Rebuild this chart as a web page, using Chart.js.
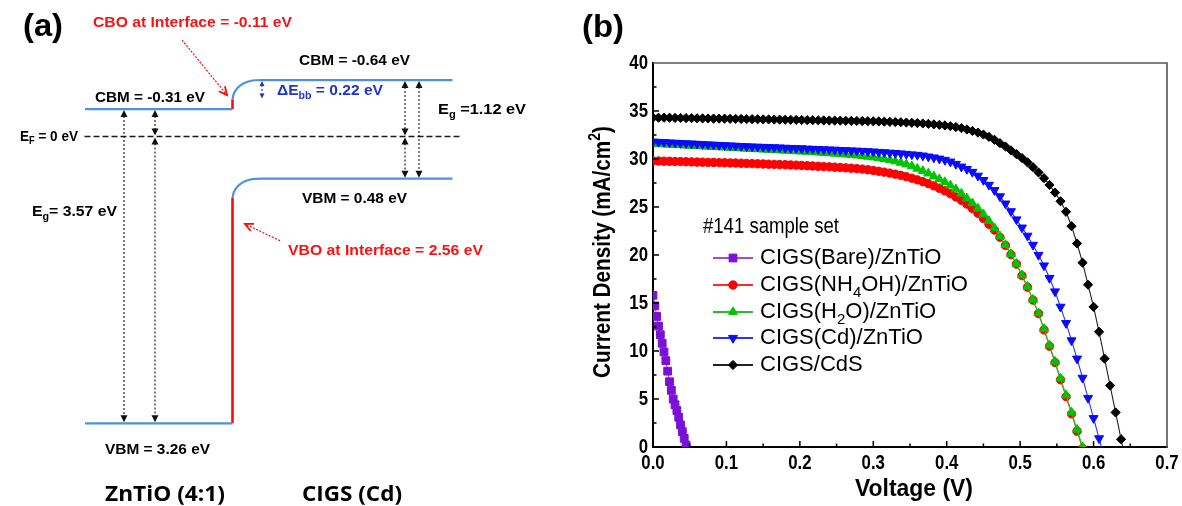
<!DOCTYPE html>
<html>
<head>
<meta charset="utf-8">
<script src="https://cdn.jsdelivr.net/npm/chart.js@4.4.1/dist/chart.umd.min.js"></script>
<style>
  html, body { margin: 0; padding: 0; background: #fff; }
  #wrap { position: relative; width: 1182px; height: 506px; overflow: hidden; background: #fff; }
  #bandBox { position: absolute; left: 0; top: 0; width: 580px; height: 506px; }
  #jvBox { position: absolute; left: 580px; top: 0; width: 602px; height: 506px; }
  canvas { display: block; }
</style>
</head>
<body>
<div id="wrap">
  <div id="bandBox"><canvas id="band" width="580" height="506"></canvas></div>
  <div id="jvBox"><canvas id="jv" width="602" height="506"></canvas></div>
</div>
<script>
// ---------------- Panel (a): band alignment (energies in eV, E_F = 0) ----------------
const fermiLevel = 0;
const zntioCBM = -0.31;
const zntioVBM = 3.26;
const cigsCBM = -0.64;
const cigsVBM = 0.48;
const cbOffset = -0.11;           // CBO at the interface
const vbOffset = 2.56;            // VBO at the interface
const bandBending = 0.22;         // ΔE_bb

// position along the stack (interface at 0)
const zntioSpan = [-14.75, 0];
const fermiSpan = [-14.8, 23.0];
// band bending profile on the CIGS side near the interface
const bendPos = [0, 0.1, 0.25, 0.5, 0.8, 1.2, 1.7, 2.3, 3.0, 22.0];
const cigsCbmCurve = [-0.42, -0.475, -0.51, -0.55, -0.58, -0.607, -0.627, -0.638, -0.64, -0.64];
const cigsVbmCurve = [0.70, 0.645, 0.61, 0.57, 0.54, 0.513, 0.493, 0.482, 0.48, 0.48];

// ---------------- Panel (b): J–V curves ----------------
const voltage = [
  0, 0.0075, 0.015, 0.0225, 0.03, 0.0375, 0.045, 0.0525, 0.06, 0.0675,
  0.075, 0.0825, 0.09, 0.0975, 0.105, 0.1125, 0.12, 0.1275, 0.135, 0.1425,
  0.15, 0.1575, 0.165, 0.1725, 0.18, 0.1875, 0.195, 0.2025, 0.21, 0.2175,
  0.225, 0.2325, 0.24, 0.2475, 0.255, 0.2625, 0.27, 0.2775, 0.285, 0.2925,
  0.3, 0.3075, 0.315, 0.3225, 0.33, 0.3375, 0.345, 0.3525, 0.36, 0.3675,
  0.375, 0.3825, 0.39, 0.3975, 0.405, 0.4125, 0.42, 0.4275, 0.435, 0.4425,
  0.45, 0.4575, 0.465, 0.4725, 0.48, 0.4875, 0.495, 0.5025, 0.51, 0.5175,
  0.525, 0.5325, 0.54, 0.5475, 0.555, 0.5625, 0.57, 0.5775, 0.585, 0.5925,
  0.6, 0.6075, 0.615, 0.6225, 0.63, 0.6375, 0.645
];
const jCdS = [
  34.3, 34.3, 34.3, 34.3, 34.28, 34.27, 34.26, 34.25, 34.24, 34.23,
  34.22, 34.21, 34.2, 34.2, 34.19, 34.18, 34.17, 34.16, 34.15, 34.14,
  34.13, 34.12, 34.11, 34.1, 34.09, 34.08, 34.07, 34.06, 34.05, 34.04,
  34.03, 34.02, 34.01, 34.0, 33.99, 33.98, 33.97, 33.96, 33.95, 33.94,
  33.93, 33.91, 33.89, 33.87, 33.85, 33.83, 33.8, 33.77, 33.74, 33.7,
  33.66, 33.61, 33.56, 33.5, 33.42, 33.33, 33.22, 33.08, 32.92, 32.75,
  32.55, 32.3, 32.0, 31.65, 31.3, 30.9, 30.5, 30.1, 29.65, 29.15,
  28.6, 28.0, 27.3, 26.5, 25.6, 24.5, 23.0, 21.2, 19.2, 16.9,
  14.6, 12.0, 9.2, 6.4, 3.6, 0.8, -2.0
];
const jCd = [
  31.8, 31.77, 31.74, 31.71, 31.68, 31.65, 31.62, 31.6, 31.57, 31.54,
  31.51, 31.48, 31.45, 31.42, 31.4, 31.37, 31.34, 31.31, 31.29, 31.27,
  31.25, 31.23, 31.21, 31.19, 31.16, 31.14, 31.12, 31.1, 31.07, 31.05,
  31.03, 31.0, 30.98, 30.96, 30.93, 30.91, 30.88, 30.86, 30.83, 30.8,
  30.77, 30.73, 30.69, 30.65, 30.62, 30.57, 30.52, 30.47, 30.42, 30.35,
  30.25, 30.15, 30.03, 29.9, 29.72, 29.48, 29.2, 28.95, 28.65, 28.25,
  27.8, 27.3, 26.75, 26.1, 25.35, 24.55, 23.7, 22.85, 22.0, 21.05,
  20.0, 18.9, 17.6, 16.2, 14.6, 12.9, 11.1, 9.2, 7.2, 5.1,
  3.0, 0.9, -1.2
];
const jH2O = [
  31.6, 31.57, 31.54, 31.51, 31.48, 31.45, 31.42, 31.39, 31.36, 31.33,
  31.3, 31.27, 31.24, 31.21, 31.18, 31.15, 31.12, 31.09, 31.06, 31.03,
  31.0, 30.97, 30.94, 30.91, 30.88, 30.85, 30.82, 30.79, 30.76, 30.73,
  30.69, 30.65, 30.61, 30.57, 30.53, 30.48, 30.43, 30.38, 30.32, 30.25,
  30.18, 30.1, 30.0, 29.9, 29.77, 29.62, 29.45, 29.25, 29.0, 28.75,
  28.5, 28.2, 27.9, 27.6, 27.25, 26.85, 26.4, 25.9, 25.4, 24.85,
  24.25, 23.55, 22.8, 21.95, 21.05, 20.1, 19.1, 17.9, 16.7, 15.35,
  13.95, 12.3, 10.6, 8.9, 7.15, 5.4, 3.6, 1.8, 0.0, -1.8
];
const jNH4OH = [
  29.8, 29.79, 29.77, 29.76, 29.74, 29.73, 29.71, 29.7, 29.68, 29.67,
  29.65, 29.64, 29.62, 29.61, 29.59, 29.58, 29.56, 29.54, 29.52, 29.5,
  29.48, 29.46, 29.44, 29.42, 29.4, 29.38, 29.36, 29.33, 29.3, 29.27,
  29.24, 29.21, 29.18, 29.15, 29.12, 29.08, 29.04, 29.0, 28.95, 28.88,
  28.8, 28.72, 28.63, 28.53, 28.42, 28.3, 28.16, 28.0, 27.83, 27.64,
  27.43, 27.2, 26.95, 26.68, 26.38, 26.05, 25.7, 25.3, 24.85, 24.35,
  23.8, 23.2, 22.6, 21.85, 21.0, 20.05, 19.05, 17.85, 16.65, 15.3,
  13.9, 12.2, 10.5, 8.8, 7.0, 5.25, 3.45, 1.65, -0.15
];
const bareVoltage = [
  0, 0.0025, 0.005, 0.0075, 0.01, 0.0125, 0.015, 0.0175, 0.02, 0.0225,
  0.025, 0.0275, 0.03, 0.0325, 0.035, 0.0375, 0.04, 0.0425, 0.045
];
const jBare = [
  15.8, 14.7, 13.6, 12.6, 11.7, 10.8, 9.9, 9.0, 7.9, 6.8,
  5.9, 5.0, 4.4, 3.8, 3.1, 2.3, 1.6, 0.9, 0.2
];
const seriesNames = [
  'CIGS(Bare)/ZnTiO',
  'CIGS(NH_{4}OH)/ZnTiO',
  'CIGS(H_{2}O)/ZnTiO',
  'CIGS(Cd)/ZnTiO',
  'CIGS/CdS'
];
const legendTitle = '#141 sample set';
const voltageRange = [0, 0.7];
const currentRange = [0, 40];
const voltageStep = 0.1;
const currentStep = 5;
const xAxisTitle = 'Voltage (V)';
const yAxisTitle = 'Current Density (mA/cm^{2})';

// ---------------- shared text helpers ----------------
const SANS = '"Liberation Sans", Arial, sans-serif';
const LABEL_FONT = '"Open Sans", Lato, sans-serif';

function parseRich(str) {
  const segs = [];
  let buf = '', i = 0;
  while (i < str.length) {
    const c = str[i];
    if ((c === '_' || c === '^') && str[i + 1] === '{') {
      if (buf) { segs.push({ t: buf, m: 0 }); buf = ''; }
      const end = str.indexOf('}', i);
      segs.push({ t: str.slice(i + 2, end), m: c === '_' ? 1 : 2 });
      i = end + 1;
    } else { buf += c; i++; }
  }
  if (buf) segs.push({ t: buf, m: 0 });
  return segs;
}

// y = vertical middle of the main text. o.width fits the text to a width,
// o.squeeze scales it horizontally; o.align = left | center | right.
function drawRich(ctx, str, x, y, o) {
  const segs = parseRich(str);
  const fontOf = (sz) => `${o.weight || 'normal'} ${sz}px ${o.family || SANS}`;
  let w = 0;
  segs.forEach(s => {
    ctx.font = fontOf(s.m ? o.size * 0.68 : o.size);
    s.w = ctx.measureText(s.t).width;
    w += s.w;
  });
  const k = o.width ? o.width / w : (o.squeeze || 1);
  const total = w * k;
  const x0 = o.align === 'right' ? x - total : (o.align === 'center' ? x - total / 2 : x);
  ctx.save();
  ctx.translate(x0, y);
  ctx.scale(k, 1);
  ctx.fillStyle = o.color || '#000';
  ctx.textBaseline = 'middle';
  ctx.textAlign = 'left';
  let cx = 0;
  segs.forEach(s => {
    ctx.font = fontOf(s.m ? o.size * 0.68 : o.size);
    const dy = s.m === 1 ? o.size * 0.34 : (s.m === 2 ? -o.size * 0.36 : 0);
    ctx.fillText(s.t, cx, dy);
    cx += s.w;
  });
  ctx.restore();
}

// ---------------- Panel (a) chart ----------------
const line = (xs, ys) => ys.map((y, i) => ({ x: xs[i], y }));
const bandBlue = '#4b93e0';
const offsetRed = '#ff0a0a';

const bandDatasets = [
  { data: line(zntioSpan, [zntioCBM, zntioCBM]), borderColor: bandBlue, borderWidth: 2.2 },
  { data: line(zntioSpan, [zntioVBM, zntioVBM]), borderColor: bandBlue, borderWidth: 2.2 },
  { data: line(bendPos, cigsCbmCurve), borderColor: bandBlue, borderWidth: 2.2, cubicInterpolationMode: 'monotone' },
  { data: line(bendPos, cigsVbmCurve), borderColor: bandBlue, borderWidth: 2.2, cubicInterpolationMode: 'monotone' },
  { data: line([0, 0], [zntioCBM, zntioCBM + cbOffset]), borderColor: offsetRed, borderWidth: 2.6 },
  { data: line([0, 0], [zntioVBM - vbOffset, zntioVBM]), borderColor: offsetRed, borderWidth: 2.6 },
  { data: line(fermiSpan, [fermiLevel, fermiLevel]), borderColor: '#1a1a1a', borderWidth: 1.5, borderDash: [6, 3] }
].map(d => Object.assign({ showLine: true, pointRadius: 0, fill: false }, d));

// vertical double-headed arrows between levels
const gapArrows = [
  { x: -10.85, from: zntioCBM, to: zntioVBM, color: '#111' },
  { x: -7.75, from: zntioCBM, to: fermiLevel, color: '#111' },
  { x: -7.75, from: fermiLevel, to: zntioVBM, color: '#111' },
  { x: 17.25, from: cigsCBM, to: fermiLevel, color: '#111' },
  { x: 17.25, from: fermiLevel, to: cigsVBM, color: '#111' },
  { x: 18.65, from: cigsCBM, to: cigsVBM, color: '#111' },
  { x: 2.95, from: cigsCBM, to: cigsCBM + bandBending, color: '#1f35d0', head: 5 }
];
// pointer arrows from the interface offset labels
const pointerArrows = [
  { from: [-5.05, -1.095], to: [-0.55, -0.47] },
  { from: [4.75, 1.186], to: [1.25, 0.995] }
];
const bandLabels = [
  { t: '(a)', x: -20.95, e: -1.243, size: 32, weight: 'bold', width: 40 },
  { t: 'CBO at Interface = -0.11 eV', x: -13.95, e: -1.289, size: 15, weight: 'bold', color: '#ff1010', width: 199 },
  { t: 'CBM = -0.64 eV', x: 6.65, e: -0.857, size: 15, weight: 'bold', width: 111 },
  { t: 'CBM = -0.31 eV', x: -13.75, e: -0.44, size: 15, weight: 'bold', width: 110 },
  { t: 'ΔE_{bb} = 0.22 eV', x: 4.45, e: -0.519, size: 15, weight: 'bold', color: '#1f35d0', width: 106 },
  { t: 'E_{g} =1.12 eV', x: 20.55, e: -0.30, size: 15, weight: 'bold', width: 88 },
  { t: 'E_{F} = 0 eV', x: -21.25, e: 0, size: 15, weight: 'bold', width: 58 },
  { t: 'VBM = 0.48 eV', x: 6.95, e: 0.711, size: 15, weight: 'bold', width: 105 },
  { t: 'E_{g}= 3.57 eV', x: -20.05, e: 0.859, size: 15, weight: 'bold', width: 85 },
  { t: 'VBO at Interface = 2.56 eV', x: 5.55, e: 1.299, size: 15, weight: 'bold', color: '#ff1010', width: 195 },
  { t: 'VBM = 3.26 eV', x: -12.75, e: 3.564, size: 15, weight: 'bold', width: 105 },
  { t: 'ZnTiO (4:1)', x: -12.75, e: 4.075, size: 22, weight: 'bold', family: LABEL_FONT, width: 120 },
  { t: 'CIGS (Cd)', x: 6.95, e: 4.075, size: 22, weight: 'bold', family: LABEL_FONT, width: 100 }
];

function filledHead(ctx, x, y, dir, size) {
  // dir = -1 tip pointing up, +1 tip pointing down
  ctx.beginPath();
  ctx.moveTo(x, y);
  ctx.lineTo(x - size / 2, y - dir * size);
  ctx.lineTo(x + size / 2, y - dir * size);
  ctx.closePath();
  ctx.fill();
}

const bandAnnotations = {
  id: 'bandAnnotations',
  afterDatasetsDraw(chart) {
    const { ctx, scales: { x, y } } = chart;
    ctx.save();
    gapArrows.forEach(a => {
      const px = x.getPixelForValue(a.x);
      const y1 = y.getPixelForValue(a.from);
      const y2 = y.getPixelForValue(a.to);
      const h = a.head || 7;
      ctx.strokeStyle = a.color;
      ctx.fillStyle = a.color;
      ctx.lineWidth = 1.1;
      ctx.setLineDash([2, 2]);
      ctx.beginPath();
      ctx.moveTo(px, y1 + h);
      ctx.lineTo(px, y2 - h);
      ctx.stroke();
      ctx.setLineDash([]);
      filledHead(ctx, px, y1 + 1, -1, h);
      filledHead(ctx, px, y2 - 1, 1, h);
    });
    pointerArrows.forEach(a => {
      const x1 = x.getPixelForValue(a.from[0]), y1 = y.getPixelForValue(a.from[1]);
      const x2 = x.getPixelForValue(a.to[0]), y2 = y.getPixelForValue(a.to[1]);
      ctx.strokeStyle = offsetRed;
      ctx.lineWidth = 1.2;
      ctx.setLineDash([2, 1.5]);
      ctx.beginPath(); ctx.moveTo(x1, y1); ctx.lineTo(x2, y2); ctx.stroke();
      ctx.setLineDash([]);
      const ang = Math.atan2(y2 - y1, x2 - x1);
      ctx.lineWidth = 1.8;
      ctx.beginPath();
      ctx.moveTo(x2 - 9 * Math.cos(ang - 0.45), y2 - 9 * Math.sin(ang - 0.45));
      ctx.lineTo(x2, y2);
      ctx.lineTo(x2 - 9 * Math.cos(ang + 0.45), y2 - 9 * Math.sin(ang + 0.45));
      ctx.stroke();
    });
    bandLabels.forEach(l => {
      drawRich(ctx, l.t, x.getPixelForValue(l.x), y.getPixelForValue(l.e), l);
    });
    ctx.restore();
  }
};

new Chart(document.getElementById('band'), {
  type: 'scatter',
  data: { datasets: bandDatasets },
  options: {
    responsive: false,
    animation: false,
    events: [],
    layout: { padding: 0 },
    plugins: { legend: { display: false }, tooltip: { enabled: false } },
    scales: {
      x: { type: 'linear', display: false, min: -23.25, max: 34.75 },
      y: { type: 'linear', display: false, reverse: true, min: -1.55, max: 4.2 }
    }
  },
  plugins: [bandAnnotations]
});

// ---------------- Panel (b) chart ----------------
const seriesStyles = [
  { fill: '#7a12d6', line: '#a447ea', shape: 'rect', r: 5.5, rot: 0, order: 5 },
  { fill: '#ff0000', line: '#ff2a2a', shape: 'circle', r: 4.2, rot: 0, order: 4 },
  { fill: '#00c400', line: '#22c322', shape: 'triangle', r: 5.2, rot: 0, order: 3 },
  { fill: '#0a0aff', line: '#2f2fff', shape: 'triangle', r: 5.2, rot: 180, order: 2 },
  { fill: '#000000', line: '#222222', shape: 'rectRot', r: 4.6, rot: 0, order: 1 }
];
const seriesData = [
  line(bareVoltage, jBare),
  line(voltage, jNH4OH),
  line(voltage, jH2O),
  line(voltage, jCd),
  line(voltage, jCdS)
];
const jvDatasets = seriesData.map((data, i) => {
  const s = seriesStyles[i];
  return {
    label: seriesNames[i],
    data,
    showLine: true,
    borderWidth: 1.1,
    borderColor: s.line,
    backgroundColor: s.fill,
    pointStyle: s.shape,
    pointRadius: s.r,
    pointRotation: s.rot,
    pointBackgroundColor: s.fill,
    pointBorderColor: s.fill,
    pointBorderWidth: 1,
    order: s.order
  };
});

const tickFont = { size: 20, weight: 'bold', squeeze: 0.84 };
const titleFont = { size: 23, weight: 'bold' };

const jvFrame = {
  id: 'jvFrame',
  afterDraw(chart) {
    const { ctx, chartArea: a, scales: { x, y } } = chart;
    ctx.save();
    // upper and right frame
    ctx.strokeStyle = '#555';
    ctx.lineWidth = 1.6;
    ctx.beginPath();
    ctx.moveTo(a.left, a.top);
    ctx.lineTo(a.right, a.top);
    ctx.lineTo(a.right, a.bottom + 1);
    ctx.stroke();
    // inward major and minor ticks
    ctx.strokeStyle = '#000';
    ctx.lineWidth = 1.5;
    const tickSet = (scale) => {
      const vals = scale.ticks.map(t => t.value);
      const out = [];
      vals.forEach((v, i) => {
        out.push({ v, major: true });
        if (i < vals.length - 1) out.push({ v: (v + vals[i + 1]) / 2, major: false });
      });
      return out;
    };
    ctx.beginPath();
    tickSet(x).forEach(t => {
      if (t.v <= x.min || t.v >= x.max) return;
      const px = x.getPixelForValue(t.v);
      ctx.moveTo(px, a.bottom);
      ctx.lineTo(px, a.bottom - (t.major ? 6 : 3.5));
    });
    tickSet(y).forEach(t => {
      if (t.v <= y.min || t.v >= y.max) return;
      const py = y.getPixelForValue(t.v);
      ctx.moveTo(a.left, py);
      ctx.lineTo(a.left + (t.major ? 6 : 3.5), py);
    });
    ctx.stroke();
    // tick labels from the scales' own ticks
    x.ticks.forEach(t => {
      drawRich(ctx, Number(t.value).toFixed(1), x.getPixelForValue(t.value), a.bottom + 16,
        Object.assign({ align: 'center' }, tickFont));
    });
    y.ticks.forEach(t => {
      drawRich(ctx, String(t.value), a.left - 5, y.getPixelForValue(t.value),
        Object.assign({ align: 'right' }, tickFont));
    });
    // axis titles
    drawRich(ctx, xAxisTitle, (a.left + a.right) / 2 + 4, 490,
      Object.assign({ align: 'center', width: 118 }, titleFont));
    ctx.save();
    ctx.translate(24, (a.top + a.bottom) / 2 - 3);
    ctx.rotate(-Math.PI / 2);
    drawRich(ctx, yAxisTitle, 0, 0, Object.assign({ align: 'center', width: 252 }, titleFont));
    ctx.restore();
    // panel tag
    drawRich(ctx, '(b)', 2, 28, { size: 32, weight: 'bold', width: 42 });
    ctx.restore();
  }
};

const jvLegend = {
  id: 'jvLegend',
  afterDraw(chart) {
    const { ctx } = chart;
    ctx.save();
    drawRich(ctx, legendTitle, 123, 227, { size: 22, width: 136 });
    const rowY = [258, 285, 312, 338, 365];
    chart.data.datasets.forEach((ds, i) => {
      const s = seriesStyles[i];
      const yy = rowY[i];
      ctx.strokeStyle = s.line;
      ctx.lineWidth = 2;
      ctx.beginPath();
      ctx.moveTo(133, yy);
      ctx.lineTo(173, yy);
      ctx.stroke();
      ctx.fillStyle = s.fill;
      ctx.strokeStyle = s.fill;
      ctx.lineWidth = 1;
      Chart.helpers.drawPoint(ctx, { pointStyle: s.shape, radius: s.r, rotation: s.rot, borderWidth: 1 }, 153, yy);
      drawRich(ctx, ds.label, 180, yy, { size: 22 });
    });
    ctx.restore();
  }
};

new Chart(document.getElementById('jv'), {
  type: 'scatter',
  data: { datasets: jvDatasets },
  options: {
    responsive: false,
    animation: false,
    events: [],
    layout: { padding: { top: 63, right: 15, left: 0, bottom: 0 } },
    plugins: { legend: { display: false }, tooltip: { enabled: false } },
    scales: {
      x: {
        type: 'linear',
        min: voltageRange[0],
        max: voltageRange[1],
        afterFit(scale) { scale.height = 59; },
        grid: { display: false, drawTicks: false },
        border: { display: true, color: '#000', width: 2 },
        ticks: { stepSize: voltageStep, autoSkip: false, display: false }
      },
      y: {
        type: 'linear',
        min: currentRange[0],
        max: currentRange[1],
        afterFit(scale) { scale.width = 73; },
        grid: { display: false, drawTicks: false },
        border: { display: true, color: '#000', width: 2 },
        ticks: { stepSize: currentStep, autoSkip: false, display: false }
      }
    }
  },
  plugins: [jvFrame, jvLegend]
});
</script>
</body>
</html>
